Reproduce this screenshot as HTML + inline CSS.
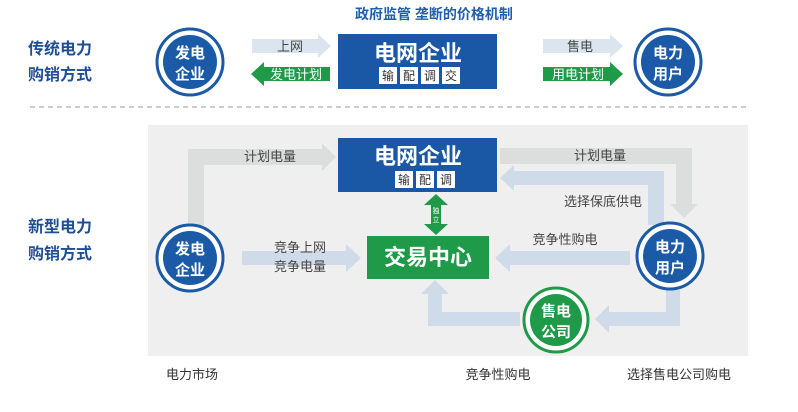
<!DOCTYPE html>
<html><head><meta charset="utf-8"><style>
html,body{margin:0;padding:0;background:#fff;}
svg text{font-family:"Liberation Sans","Noto Sans CJK SC",sans-serif;}
</style></head><body>
<svg width="798" height="407" viewBox="0 0 798 407" xmlns="http://www.w3.org/2000/svg">
<text x="434" y="19" text-anchor="middle" font-size="14" font-weight="bold" fill="#1f5fae">政府监管 垄断的价格机制</text>
<text x="28" y="54" font-size="16" font-weight="bold" fill="#1f4e96">传统电力</text>
<text x="28" y="80" font-size="16" font-weight="bold" fill="#1f4e96">购销方式</text>

<circle cx="190" cy="62" r="33" fill="#fff" stroke="#1a5aa6" stroke-width="3"/>
<circle cx="190" cy="62" r="27" fill="#1a5aa6"/>
<text x="190" y="58" text-anchor="middle" font-size="15" font-weight="bold" fill="#fff">发电</text>
<text x="190" y="79" text-anchor="middle" font-size="15" font-weight="bold" fill="#fff">企业</text>
<circle cx="668" cy="62" r="33" fill="#fff" stroke="#1a5aa6" stroke-width="3"/>
<circle cx="668" cy="62" r="27" fill="#1a5aa6"/>
<text x="668" y="58" text-anchor="middle" font-size="15" font-weight="bold" fill="#fff">电力</text>
<text x="668" y="79" text-anchor="middle" font-size="15" font-weight="bold" fill="#fff">用户</text>

<polygon points="252,39 318,39 318,34 331,46 318,58 318,53 252,53" fill="#dbe5ef"/>
<text x="290" y="51" text-anchor="middle" font-size="13" fill="#444">上网</text>
<polygon points="330,67 264,67 264,62 251,74 264,86 264,81 330,81" fill="#1f9a48"/>
<text x="296" y="79" text-anchor="middle" font-size="13" fill="#fff">发电计划</text>
<polygon points="543,39 610,39 610,34 623,46 610,58 610,53 543,53" fill="#dbe5ef"/>
<text x="580" y="51" text-anchor="middle" font-size="13" fill="#444">售电</text>
<polygon points="543,67 610,67 610,62 623,74 610,86 610,81 543,81" fill="#1f9a48"/>
<text x="578" y="79" text-anchor="middle" font-size="13" fill="#fff">用电计划</text>

<rect x="338" y="34" width="159" height="55" fill="#1a57a4"/>
<text x="418" y="61" text-anchor="middle" font-size="22" font-weight="bold" fill="#fff">电网企业</text>
<g font-size="12" fill="#333" text-anchor="middle">
<rect x="379" y="67" width="18" height="17" fill="#fff"/><text x="388" y="80">输</text>
<rect x="400" y="67" width="18" height="17" fill="#fff"/><text x="409" y="80">配</text>
<rect x="421" y="67" width="18" height="17" fill="#fff"/><text x="430" y="80">调</text>
<rect x="442" y="67" width="18" height="17" fill="#fff"/><text x="451" y="80">交</text>
</g>

<line x1="30" y1="107" x2="746" y2="107" stroke="#bbb" stroke-width="1.5" stroke-dasharray="5,4"/>

<rect x="148" y="125" width="600" height="231" fill="#efefef"/>
<text x="28" y="232" font-size="16" font-weight="bold" fill="#1f4e96">新型电力</text>
<text x="28" y="259" font-size="16" font-weight="bold" fill="#1f4e96">购销方式</text>

<polygon points="188,225 188,149 322,149 322,143 336,157 322,171 322,165 204,165 204,225" fill="#dcdddd"/>
<text x="270" y="161" text-anchor="middle" font-size="13" fill="#444">计划电量</text>
<polygon points="500,148 692,148 692,204 698,204 684,218 670,204 676,204 676,164 500,164" fill="#dcdddd"/>
<text x="600" y="160" text-anchor="middle" font-size="13" fill="#444">计划电量</text>
<polygon points="664,225 648,225 648,185 514,185 514,191 500,178 514,165 514,171 664,171" fill="#cfdbe8"/>
<text x="603" y="206" text-anchor="middle" font-size="13" fill="#444">选择保底供电</text>
<polygon points="242,251 346,251 346,244 361,258 346,272 346,265 242,265" fill="#cfdbe8"/>
<text x="300" y="252" text-anchor="middle" font-size="13" fill="#444">竞争上网</text>
<text x="300" y="271" text-anchor="middle" font-size="13" fill="#444">竞争电量</text>
<polygon points="630,251 510,251 510,244 495,258 510,272 510,265 630,265" fill="#cfdbe8"/>
<text x="565" y="244" text-anchor="middle" font-size="13" fill="#444">竞争性购电</text>
<polygon points="680,290 680,326 609,326 609,333 595,319 609,305 609,312 666,312 666,290" fill="#cfdbe8"/>
<polygon points="520,312 520,326 428,326 428,294 421,294 435,280 449,294 442,294 442,312" fill="#cfdbe8"/>

<rect x="338" y="138" width="159" height="54" fill="#1a57a4"/>
<text x="418" y="164" text-anchor="middle" font-size="22" font-weight="bold" fill="#fff">电网企业</text>
<g font-size="12" fill="#333" text-anchor="middle">
<rect x="395" y="171" width="18" height="17" fill="#fff"/><text x="404" y="184">输</text>
<rect x="416" y="171" width="18" height="17" fill="#fff"/><text x="425" y="184">配</text>
<rect x="437" y="171" width="18" height="17" fill="#fff"/><text x="446" y="184">调</text>
</g>
<polygon points="436,194 448,205 441,205 441,224 448,224 436,235 424,224 431,224 431,205 424,205" fill="#1f9a48"/>
<text x="436" y="213" text-anchor="middle" font-size="7" fill="#fff">独</text>
<text x="436" y="222" text-anchor="middle" font-size="7" fill="#fff">立</text>
<rect x="367" y="236" width="122" height="43" fill="#1f9a48"/>
<text x="428" y="265" text-anchor="middle" font-size="22" font-weight="bold" fill="#fff">交易中心</text>

<circle cx="190" cy="258" r="33" fill="#fff" stroke="#1a5aa6" stroke-width="3"/>
<circle cx="190" cy="258" r="27" fill="#1a5aa6"/>
<text x="190" y="254" text-anchor="middle" font-size="15" font-weight="bold" fill="#fff">发电</text>
<text x="190" y="275" text-anchor="middle" font-size="15" font-weight="bold" fill="#fff">企业</text>
<circle cx="670" cy="256" r="33" fill="#fff" stroke="#1a5aa6" stroke-width="3"/>
<circle cx="670" cy="256" r="27" fill="#1a5aa6"/>
<text x="670" y="252" text-anchor="middle" font-size="15" font-weight="bold" fill="#fff">电力</text>
<text x="670" y="273" text-anchor="middle" font-size="15" font-weight="bold" fill="#fff">用户</text>
<circle cx="556" cy="320" r="32" fill="#fff" stroke="#1f9a48" stroke-width="3"/>
<circle cx="556" cy="320" r="26" fill="#1f9a48"/>
<text x="556" y="316" text-anchor="middle" font-size="15" font-weight="bold" fill="#fff">售电</text>
<text x="556" y="337" text-anchor="middle" font-size="15" font-weight="bold" fill="#fff">公司</text>

<text x="192" y="379" text-anchor="middle" font-size="13" fill="#333">电力市场</text>
<text x="498" y="379" text-anchor="middle" font-size="13" fill="#333">竞争性购电</text>
<text x="679" y="379" text-anchor="middle" font-size="13" fill="#333">选择售电公司购电</text>
</svg>
</body></html>
